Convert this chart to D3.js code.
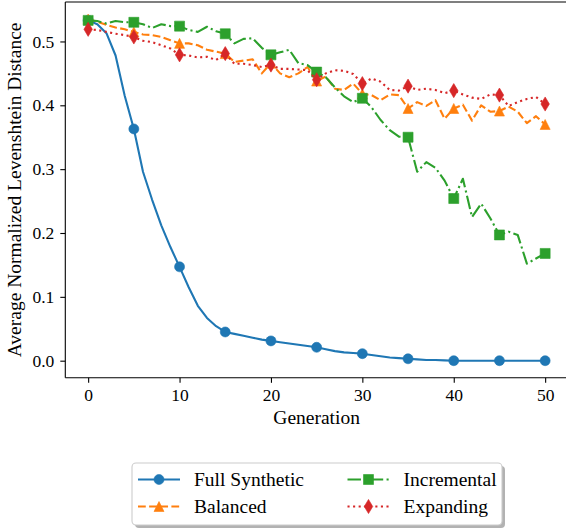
<!DOCTYPE html>
<html><head><meta charset="utf-8">
<script src="https://cdn.jsdelivr.net/npm/d3@7"></script>
<style>body{margin:0;background:#fff} svg{display:block}</style>
</head><body><svg id="c" width="566" height="529"></svg>
<script>
const generations = d3.range(0, 51);
const fullSynthetic = [0.533,0.527,0.513,0.478,0.415,0.363,0.296,0.252,0.212,0.178,
  0.147,0.115,0.086,0.067,0.054,0.045,0.042,0.039,0.036,0.033,
  0.031,0.029,0.027,0.025,0.023,0.021,0.018,0.015,0.013,0.012,
  0.011,0.009,0.007,0.005,0.004,0.003,0.002,0.001,0.001,0.0005,
  0,0,0,0,0,0,0,0,0,0,0];
const balanced = [0.535,0.531,0.526,0.522,0.519,0.515,0.511,0.510,0.507,0.502,
  0.497,0.497,0.494,0.487,0.484,0.481,0.468,0.470,0.472,0.450,
  0.466,0.450,0.444,0.450,0.460,0.438,0.445,0.426,0.424,0.434,
  0.418,0.416,0.408,0.417,0.416,0.395,0.405,0.399,0.408,0.379,
  0.395,0.401,0.376,0.400,0.390,0.391,0.398,0.390,0.372,0.383,0.370];
const incremental = [0.533,0.532,0.528,0.532,0.530,0.530,0.527,0.521,0.527,0.524,
  0.524,0.518,0.515,0.523,0.516,0.512,0.497,0.504,0.505,0.490,
  0.479,0.483,0.487,0.466,0.463,0.452,0.444,0.428,0.414,0.405,
  0.411,0.397,0.377,0.361,0.351,0.350,0.296,0.311,0.302,0.282,
  0.254,0.285,0.225,0.246,0.223,0.197,0.202,0.197,0.152,0.160,0.168];
const expanding = [0.519,0.518,0.515,0.512,0.510,0.507,0.501,0.499,0.494,0.489,
  0.479,0.478,0.475,0.476,0.471,0.481,0.465,0.465,0.463,0.460,
  0.463,0.457,0.457,0.456,0.455,0.440,0.450,0.455,0.454,0.449,
  0.434,0.442,0.437,0.424,0.423,0.430,0.424,0.426,0.424,0.419,
  0.423,0.417,0.412,0.410,0.417,0.416,0.399,0.405,0.410,0.413,0.402];
const seriesNames = ["Full Synthetic", "Balanced", "Incremental", "Expanding"];
const xTicks = [0, 10, 20, 30, 40, 50];
const yTicks = [0.0, 0.1, 0.2, 0.3, 0.4, 0.5];
const xLabel = "Generation";
const yLabel = "Average Normalized Levenshtein Distance";

const FONT = "'Liberation Serif','Times New Roman',serif";
const svg = d3.select("#c");
const L = 65.3, R = 568, T = 2, B = 377.8;
const x = d3.scaleLinear().domain([-2.5, 52.5]).range([L, R]);
const y = d3.scaleLinear().domain([-0.0268, 0.5618]).range([B, T]);

const lw = 2.1;
const styles = [
  {color:"#1f77b4", dash:null, marker:"circle"},
  {color:"#ff7f0e", dash:[3.7*lw, 1.6*lw], marker:"triangle"},
  {color:"#2ca02c", dash:[6.4*lw, 1.6*lw, 1*lw, 1.6*lw], marker:"square"},
  {color:"#d62728", dash:[1*lw, 1.65*lw], marker:"diamond"}
];
const allData = [fullSynthetic, balanced, incremental, expanding];
const ms = 10;
function markerPath(type) {
  const h = ms / 2;
  if (type === "circle") return d3.symbol(d3.symbolCircle, Math.PI * h * h)();
  if (type === "triangle") return `M0,${-h}L${h},${h}L${-h},${h}Z`;
  if (type === "square") return `M${-h},${-h}H${h}V${h}H${-h}Z`;
  const dh = h * Math.SQRT2, dw = dh * 0.6;
  return `M0,${-dh}L${dw},0L0,${dh}L${-dw},0Z`;
}

const plot = svg.append("g");
plot.append("clipPath").attr("id", "clip").append("rect")
  .attr("x", L).attr("y", T).attr("width", R - L).attr("height", B - T);
const pg = plot.append("g").attr("clip-path", "url(#clip)");

const line = d3.line().x((d, i) => x(generations[i])).y(d => y(d));
allData.forEach((data, si) => {
  const st = styles[si];
  pg.append("path").datum(data).attr("d", line)
    .attr("fill", "none").attr("stroke", st.color).attr("stroke-width", lw)
    .attr("stroke-linejoin", "round")
    .attr("stroke-linecap", st.dash ? "butt" : "round")
    .attr("stroke-dasharray", st.dash ? st.dash.join(",") : null);
  pg.selectAll(null).data(generations.filter(g => g % 5 === 0)).enter()
    .append("path").attr("d", markerPath(st.marker))
    .attr("transform", g => `translate(${x(g)},${y(data[g])})`)
    .attr("fill", st.color).attr("stroke", st.color).attr("stroke-width", 0.6);
});

// axes
const xAxis = d3.axisBottom(x).tickValues(xTicks).tickSize(5).tickPadding(6).tickFormat(d3.format("d"));
const yAxis = d3.axisLeft(y).tickValues(yTicks).tickSize(5).tickPadding(6).tickFormat(d3.format(".1f"));
const gx = svg.append("g").attr("transform", `translate(0,${B})`).call(xAxis);
const gy = svg.append("g").attr("transform", `translate(${L},0)`).call(yAxis);
[gx, gy].forEach(g => {
  g.select(".domain").remove();
  g.selectAll(".tick line").attr("stroke", "#000").attr("stroke-width", 1.1);
  g.selectAll(".tick text").attr("font-family", FONT).attr("font-size", 17.5).attr("fill", "#000");
});
// spines
svg.append("line").attr("x1", L).attr("x2", L).attr("y1", T).attr("y2", B).attr("stroke", "#000").attr("stroke-width", 1.1);
svg.append("line").attr("x1", L).attr("x2", R).attr("y1", B).attr("y2", B).attr("stroke", "#000").attr("stroke-width", 1.1);
svg.append("line").attr("x1", L).attr("x2", R).attr("y1", T).attr("y2", T).attr("stroke", "#000").attr("stroke-width", 1.1);

svg.append("text").attr("x", (L + R) / 2).attr("y", 424).attr("text-anchor", "middle")
  .attr("font-family", FONT).attr("font-size", 19.5).text(xLabel);
svg.append("text").attr("transform", `translate(21,${(T + B) / 2}) rotate(-90)`)
  .attr("text-anchor", "middle").attr("font-family", FONT).attr("font-size", 19.5).text(yLabel);

// legend
const lg = svg.append("g");
const LX = 132, LY = 463, LW = 370, LH = 62;
lg.append("rect").attr("x", LX + 3).attr("y", LY + 3).attr("width", LW).attr("height", LH)
  .attr("rx", 4).attr("fill", "#000").attr("opacity", 0.3);
lg.append("rect").attr("x", LX).attr("y", LY).attr("width", LW).attr("height", LH)
  .attr("rx", 4).attr("fill", "#fff").attr("stroke", "#cccccc").attr("stroke-width", 1.1);
const pos = [[138, 479.5], [138, 506.5], [347.5, 479.5], [347.5, 506.5]];
seriesNames.forEach((name, si) => {
  const st = styles[si];
  const [px, py] = pos[si];
  lg.append("line").attr("x1", px).attr("x2", px + 42).attr("y1", py).attr("y2", py)
    .attr("stroke", st.color).attr("stroke-width", lw)
    .attr("stroke-dasharray", st.dash ? st.dash.join(",") : null);
  lg.append("path").attr("d", markerPath(st.marker)).attr("transform", `translate(${px + 21},${py})`)
    .attr("fill", st.color).attr("stroke", st.color).attr("stroke-width", 0.6);
  lg.append("text").attr("x", px + 56).attr("y", py).attr("dy", "0.35em")
    .attr("font-family", FONT).attr("font-size", 19.5).text(name);
});
</script></body></html>
